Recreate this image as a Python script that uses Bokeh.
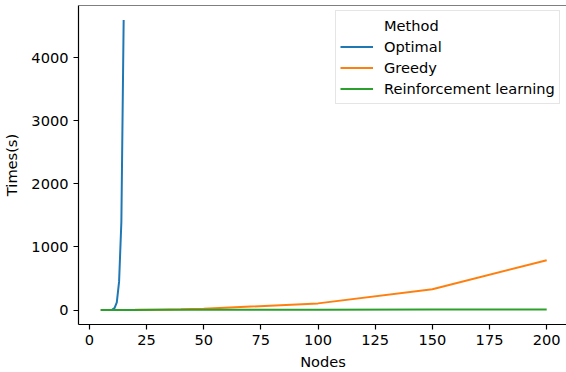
from bokeh.plotting import figure
from bokeh.models import Range1d, FixedTicker, Legend, LegendItem, Span
from bokeh.embed import file_html
from bokeh.resources import INLINE

# ---- data ----
nodes_optimal = [5, 6, 7, 8, 9, 10, 11, 12, 13, 14, 15]
time_optimal = [0.01, 0.03, 0.1, 0.3, 1, 5, 30, 120, 450, 1400, 4600]

nodes_greedy = [5, 10, 20, 30, 40, 50, 100, 150, 200]
time_greedy = [0.1, 0.5, 2, 5, 10, 20, 105, 330, 790]

nodes_rl = [5, 10, 20, 30, 40, 50, 100, 150, 200]
time_rl = [0.5, 1, 1.5, 2, 2.5, 3, 5, 7, 9]

x_ticks = [0, 25, 50, 75, 100, 125, 150, 175, 200]
y_ticks = [0, 1000, 2000, 3000, 4000]

series_names = ["Optimal", "Greedy", "Reinforcement learning"]
colors = ["#1f77b4", "#ff7f0e", "#2ca02c"]
FONT = "DejaVu Sans"
FS = "14.6px"

p = figure(frame_width=489, frame_height=319, output_backend="svg",
           toolbar_location=None,
           x_range=Range1d(-4.75, 209.1), y_range=Range1d(-230, 4830),
           min_border_left=77, min_border_top=5, min_border_right=0,
           min_border_bottom=48)
p.background_fill_color = "white"
p.border_fill_color = "white"
p.outline_line_color = None
p.xgrid.visible = False
p.ygrid.visible = False

for ax in (p.xaxis[0], p.yaxis[0]):
    ax.axis_line_color = "black"
    ax.axis_line_width = 1.2
    ax.major_tick_line_color = "black"
    ax.major_tick_line_width = 1.2
    ax.major_tick_out = 5
    ax.major_tick_in = 0
    ax.minor_tick_line_color = None
    ax.major_label_text_font = FONT
    ax.major_label_text_font_size = FS
    ax.major_label_text_color = "black"
    ax.axis_label_text_font = FONT
    ax.axis_label_text_font_size = FS
    ax.axis_label_text_font_style = "normal"
    ax.axis_label_text_color = "black"

p.xaxis.ticker = FixedTicker(ticks=x_ticks)
p.yaxis.ticker = FixedTicker(ticks=y_ticks)
p.xaxis.axis_label = "Nodes"
p.yaxis.axis_label = "Times(s)"
p.xaxis.axis_label_standoff = 5
p.yaxis.axis_label_standoff = 8
p.xaxis.major_label_standoff = 5
p.yaxis.major_label_standoff = 5

# top spine
p.add_layout(Span(location=p.y_range.end, dimension="width",
                  line_color="black", line_width=1.2))

dummy = p.line(x=[], y=[], line_alpha=0)
r1 = p.line(nodes_optimal, time_optimal, line_color=colors[0], line_width=2)
r2 = p.line(nodes_greedy, time_greedy, line_color=colors[1], line_width=2)
r3 = p.line(nodes_rl, time_rl, line_color=colors[2], line_width=2)

legend = Legend(items=[
    LegendItem(label="Method", renderers=[dummy]),
    LegendItem(label=series_names[0], renderers=[r1]),
    LegendItem(label=series_names[1], renderers=[r2]),
    LegendItem(label=series_names[2], renderers=[r3]),
], location=(257, 220))
legend.label_text_font = FONT
legend.label_text_font_size = FS
legend.label_text_color = "black"
legend.label_height = 21
legend.glyph_height = 21
legend.glyph_width = 33
legend.spacing = 0
legend.padding = 4
legend.label_standoff = 11
legend.margin = 0
legend.border_line_color = "#cccccc"
legend.border_line_width = 1
legend.background_fill_alpha = 0.8
p.add_layout(legend)

open("out.html", "w").write(file_html(p, INLINE))
